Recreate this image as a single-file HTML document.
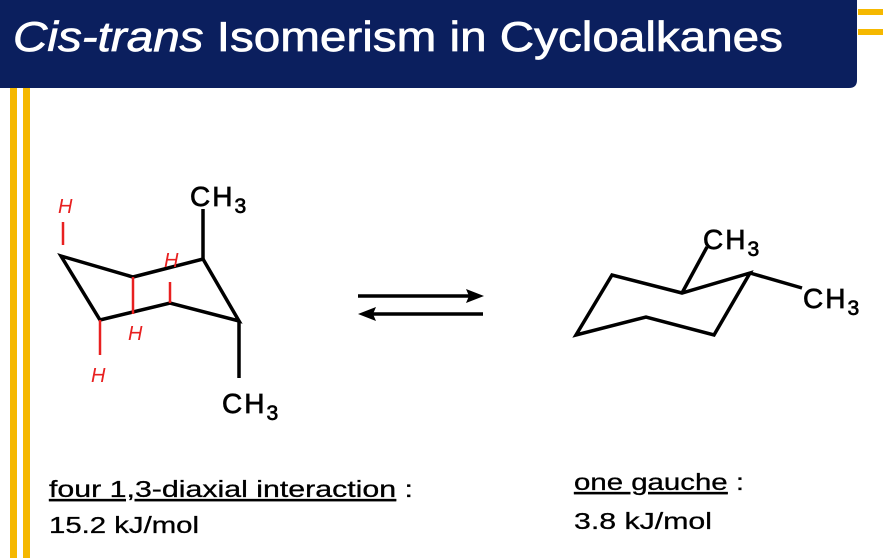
<!DOCTYPE html>
<html><head><meta charset="utf-8"><style>
html,body{margin:0;padding:0;background:#fff;}
body{width:883px;height:558px;position:relative;overflow:hidden;font-family:"Liberation Sans",Arial,sans-serif;}
</style></head><body>
<svg width="883" height="558" viewBox="0 0 883 558" xmlns="http://www.w3.org/2000/svg" style="position:absolute;left:0;top:0">
<rect x="858" y="9" width="25" height="6" fill="#f5b800"/>
<rect x="858" y="29" width="25" height="6" fill="#f5b800"/>
<rect x="10" y="86" width="7" height="472" fill="#f5b800"/>
<rect x="23" y="86" width="7" height="472" fill="#f5b800"/>
<path d="M0 0 H857 V80 Q857 88 849 88 H0 Z" fill="#0b1f5e"/>
<text x="13" y="51" fill="#fff" stroke="#fff" stroke-width="0.7" font-size="42" font-family="Liberation Sans, sans-serif" textLength="770" lengthAdjust="spacingAndGlyphs"><tspan font-style="italic">Cis-trans</tspan> Isomerism in Cycloalkanes</text>

<g stroke="#000" stroke-width="3.5" fill="none" stroke-linejoin="miter">
<path d="M61 256 L133 277 L203 259 L239 321 L170 303 L100 320 Z"/>
<path d="M203 259 V209"/>
<path d="M239 321 V378"/>
<path d="M576 335 L612 275 L682 293 L750 273 L714 335 L646 317 Z"/>
<path d="M682 293 L707 247"/>
<path d="M750 273 L802 288"/>
<path d="M358 296 H470"/>
<path d="M372 314 H483"/>
</g>
<path d="M484 296 L466 289 L469 296 L466 303 Z" fill="#000"/>
<path d="M358 314 L376 307 L373 314 L376 321 Z" fill="#000"/>

<g font-size="28" fill="#000" font-family="Liberation Sans, sans-serif" stroke="#000" stroke-width="0.7" letter-spacing="2">
<text x="190" y="206">CH<tspan font-size="21" dy="7">3</tspan></text>
<text x="222" y="413">CH<tspan font-size="21" dy="7">3</tspan></text>
<text x="703" y="249">CH<tspan font-size="21" dy="7">3</tspan></text>
<text x="803" y="308">CH<tspan font-size="21" dy="7">3</tspan></text>
</g>

<g stroke="#e82020" stroke-width="2.5" fill="none">
<path d="M133 277 V314"/>
<path d="M170 303 V282"/>
<path d="M63 222 V245"/>
<path d="M100 320 V355"/>
</g>
<g fill="#e82020" font-size="20" font-style="italic" font-family="Liberation Sans, sans-serif">
<text x="58" y="213">H</text>
<text x="128" y="340">H</text>
<text x="164" y="267">H</text>
<text x="91" y="382">H</text>
</g>

<g font-size="23" fill="#000" stroke="#000" stroke-width="0.3" font-family="Liberation Sans, sans-serif">
<text x="49" y="497" textLength="364" lengthAdjust="spacingAndGlyphs"><tspan text-decoration="underline">four 1,3-diaxial interaction</tspan> :</text>
<text x="49" y="533" textLength="150" lengthAdjust="spacingAndGlyphs">15.2 kJ/mol</text>
<text x="574" y="490" textLength="170" lengthAdjust="spacingAndGlyphs"><tspan text-decoration="underline">one gauche</tspan> :</text>
<text x="574" y="529" textLength="138" lengthAdjust="spacingAndGlyphs">3.8 kJ/mol</text>
</g>
</svg>
</body></html>
